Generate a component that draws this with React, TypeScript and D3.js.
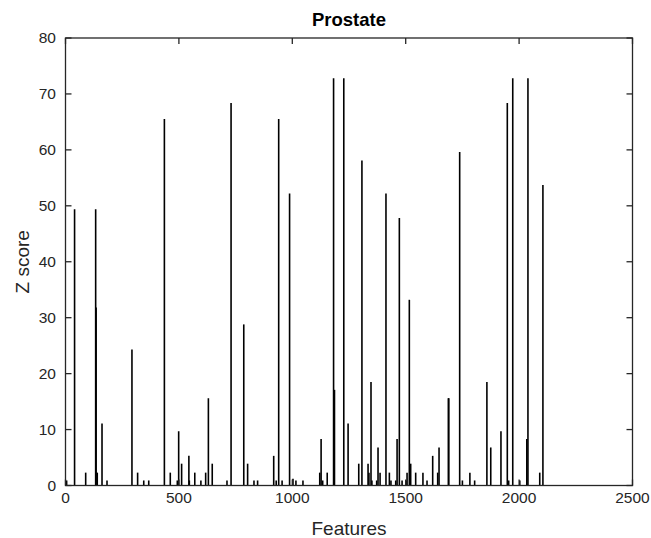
import React from "react";
import * as d3 from "d3";

const features = [
  5, 40, 89, 133, 135, 140, 161, 183, 293, 318, 345, 367, 436, 462, 493, 499, 512, 544, 546, 570,
  597, 618, 630, 647, 712, 730, 786, 803, 831, 847, 918, 929, 940, 955, 988, 1003, 1016, 1047,
  1121, 1127, 1134, 1154, 1182, 1186, 1227, 1246, 1293, 1307, 1334, 1338, 1347, 1351, 1372, 1378,
  1387, 1413, 1428, 1435, 1456, 1462, 1472, 1484, 1501, 1506, 1516, 1522, 1544, 1576, 1594, 1619,
  1641, 1647, 1688, 1690, 1738, 1750, 1783, 1804, 1858, 1875, 1920, 1948, 1954, 1972, 2003, 2034,
  2039, 2091, 2105,
];
const zScores = [
  0.9, 49.4, 2.3, 49.4, 31.8, 2.3, 11.1, 0.9, 24.3, 2.3, 0.9, 0.9, 65.5, 2.3, 0.9, 9.7, 3.9, 5.3, 0.9, 2.3,
  0.9, 2.3, 15.6, 3.9, 0.9, 68.4, 28.8, 3.9, 0.9, 0.9, 5.3, 0.9, 65.5, 0.9, 52.2, 1.2, 0.9, 0.9,
  2.3, 8.3, 0.9, 2.3, 72.8, 17.1, 72.8, 11.1, 3.9, 58.1, 3.9, 2.3, 18.5, 0.9, 0.9, 6.8,
  2.3, 52.2, 2.3, 0.9, 0.9, 8.3, 47.8, 0.9, 0.9, 2.3, 33.2, 3.9, 2.3, 2.3, 0.9, 5.3,
  2.3, 6.8, 15.6, 15.6, 59.6, 0.9, 2.3, 0.9, 18.5, 6.8, 9.7, 68.4, 0.9, 72.8, 0.9, 8.3,
  72.8, 2.3, 53.7,
];
const xTicks = [0, 500, 1000, 1500, 2000, 2500];
const yTicks = [0, 10, 20, 30, 40, 50, 60, 70, 80];
const title = "Prostate";
const xLabel = "Features";
const yLabel = "Z score";

const W = 651;
const H = 538;
const left = 65.5;
const right = 632.5;
const top = 38;
const bottom = 485.5;
const axisColor = "#262626";
const font = "'Liberation Sans', Arial, Helvetica, sans-serif";

export default function App() {
  const x = d3.scaleLinear().domain([0, 2500]).range([left, right]);
  const y = d3.scaleLinear().domain([0, 80]).range([bottom, top]);
  const tickLen = 6;
  return (
    <svg
      width={W}
      height={H}
      style={{ position: "absolute", left: 0, top: 0, background: "#fff" }}
      fontFamily={font}
    >
      <rect x={0} y={0} width={W} height={H} fill="#fff" />
      {features.map((f, i) => (
        <line
          key={i}
          x1={x(f)}
          x2={x(f)}
          y1={y(0)}
          y2={y(zScores[i])}
          stroke="#000"
          strokeWidth={1.6}
        />
      ))}
      <rect
        x={left}
        y={top}
        width={right - left}
        height={bottom - top}
        fill="none"
        stroke={axisColor}
        strokeWidth={1.3}
      />
      {xTicks.map((t) => (
        <g key={"x" + t}>
          <line x1={x(t)} x2={x(t)} y1={bottom} y2={bottom - tickLen} stroke={axisColor} strokeWidth={1.3} />
          <line x1={x(t)} x2={x(t)} y1={top} y2={top + tickLen} stroke={axisColor} strokeWidth={1.3} />
          <text x={x(t)} y={503} textAnchor="middle" fontSize={15.5} fill={axisColor}>
            {t}
          </text>
        </g>
      ))}
      {yTicks.map((t) => (
        <g key={"y" + t}>
          <line x1={left} x2={left + tickLen} y1={y(t)} y2={y(t)} stroke={axisColor} strokeWidth={1.3} />
          <line x1={right} x2={right - tickLen} y1={y(t)} y2={y(t)} stroke={axisColor} strokeWidth={1.3} />
          <text x={56} y={y(t) + 5.3} textAnchor="end" fontSize={15.5} fill={axisColor}>
            {t}
          </text>
        </g>
      ))}
      <text x={(left + right) / 2} y={26} textAnchor="middle" fontSize={18.5} fontWeight="bold" fill="#000">
        {title}
      </text>
      <text x={(left + right) / 2} y={535} textAnchor="middle" fontSize={19} fill={axisColor}>
        {xLabel}
      </text>
      <text
        transform={`translate(29, ${(top + bottom) / 2}) rotate(-90)`}
        textAnchor="middle"
        fontSize={19}
        fill={axisColor}
      >
        {yLabel}
      </text>
    </svg>
  );
}
